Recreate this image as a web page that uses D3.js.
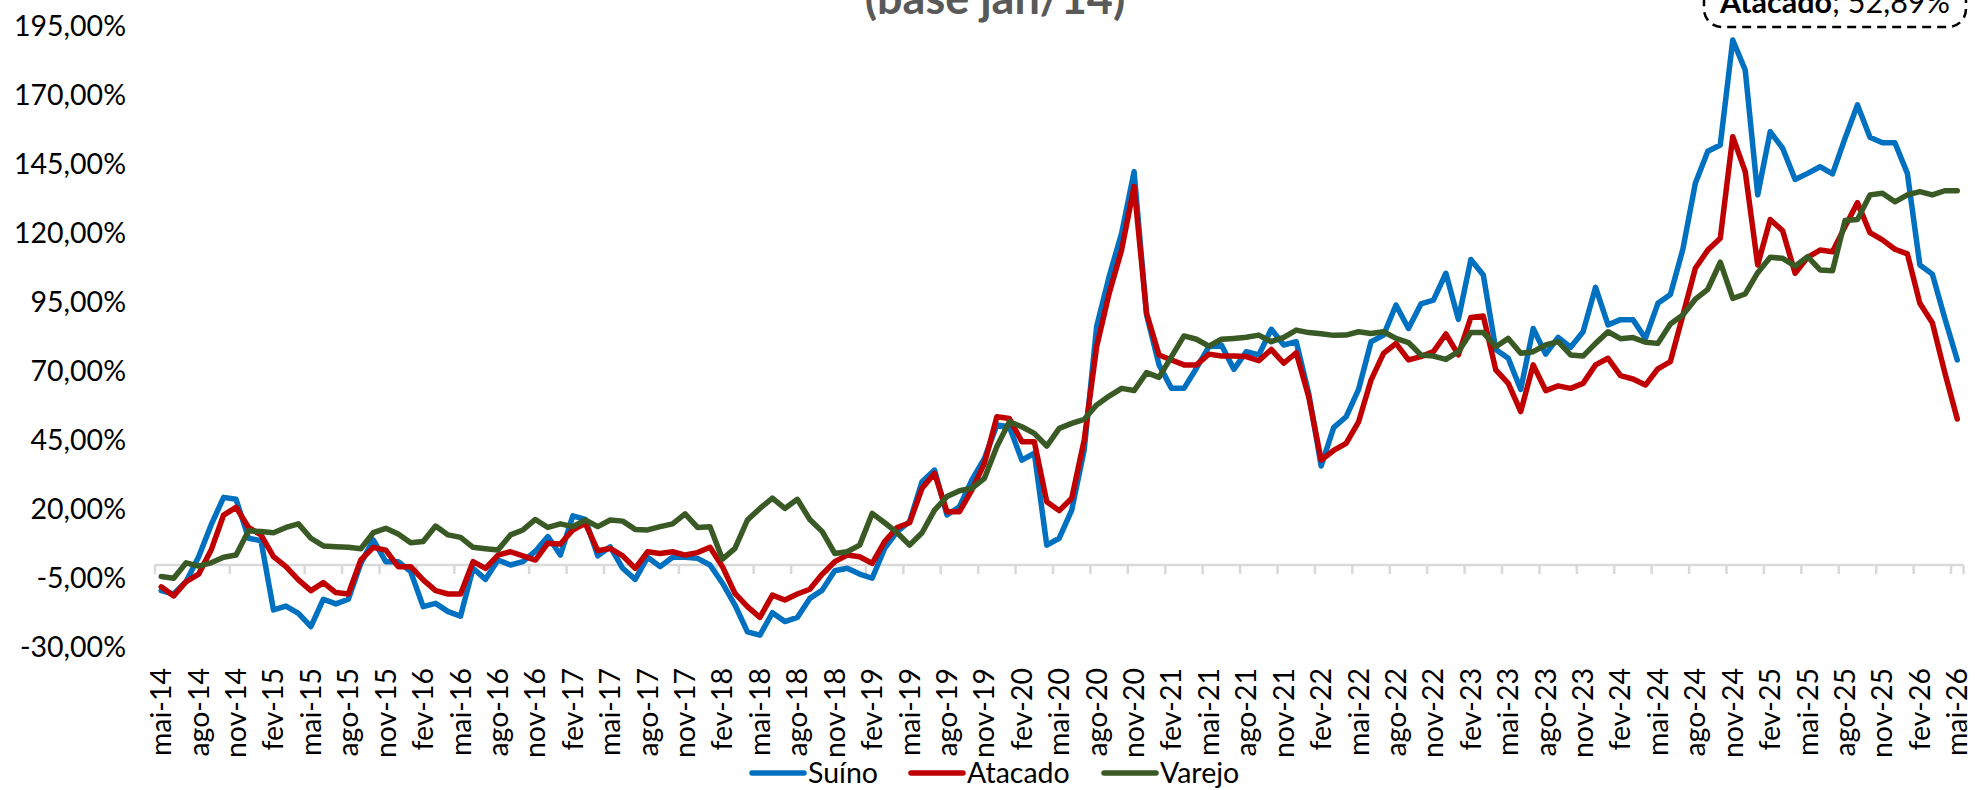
<!DOCTYPE html>
<html><head><meta charset="utf-8">
<script src="https://cdn.jsdelivr.net/npm/d3@7"></script>
<style>
body{margin:0;background:#fff}
svg{display:block}
text{font-family:Lato,'Liberation Sans',sans-serif}
</style>
</head><body><svg id="c" width="1975" height="790"></svg>
<script>
const categories = [
"mai-14","jun-14","jul-14","ago-14","set-14","out-14","nov-14","dez-14",
"jan-15","fev-15","mar-15","abr-15","mai-15","jun-15","jul-15","ago-15","set-15","out-15","nov-15","dez-15",
"jan-16","fev-16","mar-16","abr-16","mai-16","jun-16","jul-16","ago-16","set-16","out-16","nov-16","dez-16",
"jan-17","fev-17","mar-17","abr-17","mai-17","jun-17","jul-17","ago-17","set-17","out-17","nov-17","dez-17",
"jan-18","fev-18","mar-18","abr-18","mai-18","jun-18","jul-18","ago-18","set-18","out-18","nov-18","dez-18",
"jan-19","fev-19","mar-19","abr-19","mai-19","jun-19","jul-19","ago-19","set-19","out-19","nov-19","dez-19",
"jan-20","fev-20","mar-20","abr-20","mai-20","jun-20","jul-20","ago-20","set-20","out-20","nov-20","dez-20",
"jan-21","fev-21","mar-21","abr-21","mai-21","jun-21","jul-21","ago-21","set-21","out-21","nov-21","dez-21",
"jan-22","fev-22","mar-22","abr-22","mai-22","jun-22","jul-22","ago-22","set-22","out-22","nov-22","dez-22",
"jan-23","fev-23","mar-23","abr-23","mai-23","jun-23","jul-23","ago-23","set-23","out-23","nov-23","dez-23",
"jan-24","fev-24","mar-24","abr-24","mai-24","jun-24","jul-24","ago-24","set-24","out-24","nov-24","dez-24",
"jan-25","fev-25","mar-25","abr-25","mai-25","jun-25","jul-25","ago-25","set-25","out-25","nov-25","dez-25",
"jan-26","fev-26","mar-26","abr-26","mai-26"];

const suino = [
-9.3,-10.5,-6.0,3.0,14.5,24.5,23.8,9.7,
8.8,-16.3,-14.9,-17.5,-22.3,-12.4,-14.1,-12.4,0.6,9.1,1.2,1.2,
-2.4,-15.1,-13.9,-16.9,-18.5,-1.2,-5.2,1.8,0.0,1.2,5.0,10.3,
3.6,17.8,16.5,3.3,6.6,-1.2,-5.2,2.8,-0.6,2.8,2.8,2.4,
0.0,-6.6,-14.5,-24.2,-25.4,-17.3,-20.5,-19.0,-12.1,-9.1,-2.1,-1.2,
-3.3,-4.8,6.0,12.1,15.7,30.2,34.4,18.1,21.1,30.8,38.6,50.7,
50.1,38.0,40.5,7.2,9.7,19.9,41.7,86.4,104.5,120.2,142.5,90.6,
72.5,64.0,64.0,71.3,79.1,79.7,70.9,77.3,76.1,85.4,79.7,80.9,
62.2,35.9,49.8,53.7,63.6,80.9,83.3,94.2,85.7,94.6,96.0,105.7,
89.0,110.7,105.1,78.1,74.9,63.6,85.7,76.4,82.5,78.9,84.5,100.6,
87.0,88.9,88.9,82.1,94.8,98.0,114.4,138.3,149.9,152.2,190.2,179.3,
134.1,157.0,151.0,139.7,141.9,144.3,141.7,154.6,166.7,155.0,153.0,153.0,
141.9,108.7,105.4,89.4,74.3];

const atacado = [
-7.9,-11.2,-6.0,-3.3,5.4,18.1,20.9,13.6,
10.9,3.0,-0.6,-5.4,-9.3,-6.4,-10.0,-10.5,1.8,6.4,5.4,-0.6,
-0.6,-5.4,-9.3,-10.5,-10.5,1.2,-1.2,3.6,4.8,3.3,1.8,7.9,
7.6,12.7,15.1,5.2,6.0,3.3,-1.2,4.8,4.2,4.8,3.6,4.5,
6.4,-0.6,-10.3,-15.1,-19.0,-10.9,-12.7,-10.5,-8.8,-3.3,1.2,3.6,
3.0,0.6,8.5,13.6,15.3,27.8,33.2,19.3,19.3,27.2,36.8,53.7,
53.1,44.7,44.7,22.9,19.7,24.2,45.3,79.1,98.4,114.1,137.1,91.2,
76.1,74.3,72.5,72.5,76.4,75.7,75.7,75.5,74.0,78.1,73.1,76.9,
61.0,38.0,41.5,44.1,51.9,67.0,76.7,80.3,74.3,75.5,77.3,83.7,
76.1,89.7,90.2,70.7,65.8,55.6,72.5,63.2,64.9,64.0,65.8,72.5,
74.9,68.6,67.4,65.2,71.1,73.7,90.5,107.5,114.1,118.4,155.2,142.5,
108.7,125.2,121.1,105.7,111.5,114.1,113.5,122.6,131.3,120.4,117.8,114.4,
112.7,94.8,87.8,69.7,52.89];

const varejo = [
-4.2,-4.8,0.8,-0.4,0.8,2.8,3.6,12.4,
12.1,11.7,13.6,14.9,9.7,6.9,6.6,6.4,5.9,11.7,13.3,11.2,
8.1,8.5,14.1,10.9,10.0,6.4,5.9,5.4,10.9,12.7,16.5,13.6,
14.9,13.9,16.3,13.9,16.3,15.9,12.9,12.7,13.9,14.9,18.5,13.6,
13.9,2.1,6.0,16.3,20.5,24.2,20.5,23.8,16.5,12.1,4.2,4.8,
7.2,18.7,15.3,11.7,7.2,11.7,19.9,24.8,26.9,27.8,31.4,42.9,
51.9,50.1,47.7,43.1,49.5,51.3,52.8,58.0,61.2,64.0,63.2,69.7,
68.0,75.5,83.0,81.8,79.3,81.8,82.1,82.5,83.3,80.9,82.5,85.1,
84.2,83.8,83.2,83.3,84.5,83.9,84.5,82.1,80.6,76.1,75.7,74.5,
77.3,84.2,84.2,79.1,82.1,76.7,77.3,79.7,80.9,76.1,75.7,80.3,
84.5,82.0,82.4,80.7,80.3,87.3,90.6,96.3,99.9,109.7,96.6,98.2,
105.9,111.5,111.1,108.3,111.7,106.9,106.6,124.8,125.2,134.1,134.7,131.6,
134.1,135.3,134.1,135.6,135.6];

const yTicks = [-30,-5,20,45,70,95,120,145,170,195];
const seriesNames = ["Suíno","Atacado","Varejo"];
const seriesColors = ["#0070C0","#C00000","#3A5A25"];
const titleText = "(base jan/14)";
const noteLabel = "Atacado";
const noteValue = "; 52,89%";

const svg = d3.select('#c');
const x = d3.scalePoint().domain(categories).range([155, 1963.5]).padding(0.5);
const y = d3.scaleLinear().domain([-30, 195]).range([647.8, 26.8]);
const step = x.step();
const FS = 28.5;

// Title (second line, partially cut at the top as in the reference)
svg.append('text').attr('x', 995).attr('y', 14).attr('text-anchor', 'middle')
  .attr('font-size', 45).attr('font-weight', 700).attr('fill', '#595959').text(titleText);

// Y axis labels
const gy = svg.append('g').attr('transform', 'translate(126,0)')
  .call(d3.axisLeft(y).tickValues(yTicks).tickSize(0).tickPadding(0)
    .tickFormat(d => d.toFixed(2).replace('.', ',') + '%'));
gy.select('.domain').remove();
gy.attr('font-family', null).attr('font-size', FS);
gy.selectAll('text').attr('fill', '#000');

// X axis line and ticks
const y0 = y(0);
svg.append('line').attr('x1', x.range()[0]).attr('x2', x.range()[1])
  .attr('y1', y0).attr('y2', y0).attr('stroke', '#D9D9D9').attr('stroke-width', 2.5);
const tickCats = categories.filter((d, i) => i % 3 === 0);
svg.append('g').selectAll('line').data(tickCats).join('line')
  .attr('x1', d => x(d) - step / 2).attr('x2', d => x(d) - step / 2)
  .attr('y1', y0).attr('y2', y0 + 9).attr('stroke', '#D9D9D9').attr('stroke-width', 2.5);
svg.append('line').attr('x1', x.range()[1]).attr('x2', x.range()[1])
  .attr('y1', y0).attr('y2', y0 + 9).attr('stroke', '#D9D9D9').attr('stroke-width', 2.5);

// X labels (rotated)
svg.append('g').selectAll('text').data(tickCats).join('text')
  .attr('transform', d => `translate(${x(d)},668) rotate(-90)`)
  .attr('text-anchor', 'end').attr('dy', '0.35em')
  .attr('font-size', FS).attr('fill', '#000').text(d => d);

// Lines
const line = d3.line().x((d, i) => x(categories[i])).y(d => y(d));
[suino, atacado, varejo].forEach((s, k) => {
  svg.append('path').datum(s).attr('d', line).attr('fill', 'none')
    .attr('stroke', seriesColors[k]).attr('stroke-width', 5.5)
    .attr('stroke-linejoin', 'round').attr('stroke-linecap', 'round');
});

// Legend
const legendX = [752, 911, 1104];
seriesNames.forEach((n, k) => {
  const g = svg.append('g').attr('transform', `translate(${legendX[k]},773)`);
  g.append('line').attr('x1', 0).attr('x2', 52).attr('y1', 0).attr('y2', 0)
    .attr('stroke', seriesColors[k]).attr('stroke-width', 5.5).attr('stroke-linecap', 'round');
  g.append('text').attr('x', 56).attr('y', 10).attr('font-size', FS).attr('fill', '#000').text(n);
});

// Annotation box
svg.append('rect').attr('x', 1704).attr('y', -40).attr('width', 262).attr('height', 67)
  .attr('rx', 18).attr('fill', '#fff').attr('stroke', '#000').attr('stroke-width', 2.5)
  .attr('stroke-dasharray', '9,6');
const t = svg.append('text').attr('x', 1835).attr('y', 13).attr('text-anchor', 'middle')
  .attr('font-size', 30.5).attr('fill', '#000');
t.append('tspan').attr('font-weight', 700).text(noteLabel);
t.append('tspan').text(noteValue);
</script></body></html>
